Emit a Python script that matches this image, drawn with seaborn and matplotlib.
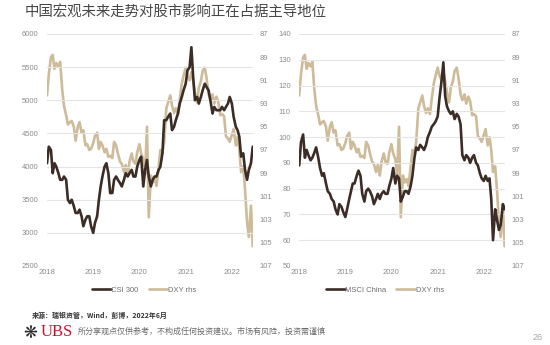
import matplotlib
matplotlib.use("Agg")
import matplotlib.pyplot as plt
import seaborn as sns
import pandas as pd

# ---------------- data (semi-monthly readings, Jan 2018 - Jun 2022) ----------------
csi300 = [
    4050, 4300, 4250, 3900, 4050, 4000, 3900, 3800, 3800, 3850, 3800, 3500,
    3450, 3500, 3400, 3300, 3300, 3350, 3250, 3100, 3200, 3250, 3250, 3100,   # 2018
    3000, 3150, 3250, 3500, 3700, 3850, 4000, 4050, 3900, 3600, 3600, 3800,
    3850, 3800, 3750, 3700, 3800, 3900, 3850, 3900, 3950, 3850, 3850, 4000,   # 2019
    4100, 4150, 3700, 3950, 4100, 3850, 3700, 3800, 3850, 3850, 3950, 4000,
    4200, 4700, 4700, 4750, 4800, 4550, 4600, 4700, 4800, 4950, 5050, 5150,   # 2020
    5250, 5450, 5500, 5800, 5350, 5000, 5050, 4950, 5050, 5150, 5250, 5200,
    5150, 5000, 4800, 4900, 4850, 4850, 4850, 4900, 4850, 4900, 4950, 5050,   # 2021
    4950, 4750, 4600, 4550, 4450, 4150, 4200, 3950, 3800, 3950, 4050, 4300,   # 2022
]
msci_china = [
    89, 98, 101, 92, 95, 93, 91, 92, 94, 96, 92, 88,
    85, 86, 82, 79, 78, 76, 75, 72, 70, 74, 73, 71,                             # 2018
    69, 72, 76, 79, 82, 82, 85, 87, 85, 78, 75, 79,
    80, 79, 77, 74, 76, 78, 76, 78, 79, 78, 78, 81,                             # 2019
    84, 88, 82, 85, 84, 75, 77, 79, 79, 78, 81, 85,
    92, 96, 95, 97, 96, 95, 97, 100, 102, 104, 105, 106,                        # 2020
    108, 115, 122, 129, 116, 112, 110, 109, 110, 107, 109, 108,
    105, 93, 91, 93, 92, 90, 92, 93, 90, 89, 86, 84,                            # 2021
    83, 85, 83, 84, 76, 60, 72, 68, 64, 66, 74, 72,                             # 2022
]
dxy = [
    92.3, 90.5, 89.0, 88.8, 90.0, 89.5, 89.8, 89.4, 91.8, 93.2, 94.0, 94.8,
    94.6, 94.5, 95.0, 96.2, 95.0, 94.6, 95.5, 95.3, 96.6, 96.5, 97.0, 96.9,     # 2018
    96.4, 95.8, 95.5, 96.9, 96.3, 96.6, 97.2, 96.9, 97.6, 97.5, 97.7, 96.3,
    96.6, 97.3, 98.0, 98.2, 98.9, 98.3, 99.2, 98.0, 97.3, 98.0, 98.2, 97.2,     # 2019
    96.5, 97.3, 97.8, 99.1, 95.0, 102.8, 99.2, 99.8, 99.5, 100.1, 98.5, 97.0,
    97.3, 96.3, 93.4, 92.9, 92.3, 93.2, 93.8, 93.4, 93.9, 92.6, 91.3, 90.6,     # 2020
    89.9, 90.6, 91.0, 90.3, 91.0, 92.0, 92.9, 91.6, 91.1, 90.2, 89.9, 90.8,
    92.2, 92.7, 92.2, 93.0, 92.4, 92.8, 94.0, 93.9, 94.1, 95.8, 96.0, 96.3,     # 2021
    95.7, 95.2, 96.6, 95.9, 97.0, 98.9, 98.4, 100.4, 103.2, 104.5, 101.8, 105.3,  # 2022
]
dates = pd.date_range("2018-01-01", periods=len(csi300), freq="SMS")
year_ticks = ["2018", "2019", "2020", "2021", "2022"]
left_ticks_a = [2500, 3000, 3500, 4000, 4500, 5000, 5500, 6000]
left_ticks_b = [50, 60, 70, 80, 90, 100, 110, 120, 130, 140]
right_ticks = [87, 89, 91, 93, 95, 97, 99, 101, 103, 105, 107]

title = "中国宏观未来走势对股市影响正在占据主导地位"
source = "来源：瑞银资管，Wind，彭博，2022年6月"
disclaimer = "所分享观点仅供参考，不构成任何投资建议。市场有风险，投资需谨慎"
page = "26"

df = pd.DataFrame({"date": dates, "CSI 300": csi300,
                   "MSCI China": msci_china, "DXY rhs": dxy})

# ---------------- style ----------------
sns.set_theme(style="white")
plt.rcParams["font.family"] = ["Liberation Sans", "Noto Sans CJK SC", "DejaVu Sans"]
CJK = ["Noto Sans CJK SC", "DejaVu Sans"]

DARK = "#3b2d25"
LIGHT = "#cdbb9a"
TICK = "#8c8c8c"
GRID = "#e4e4e4"

fig = plt.figure(figsize=(5.5, 3.45), dpi=100)
fig.patch.set_facecolor("white")

xmin = pd.Timestamp("2018-01-01")
xmax = pd.Timestamp("2022-06-17")


def panel(rect, col, lticks, legend_x):
    ax = fig.add_axes(rect)
    axr = ax.twinx()
    sns.lineplot(data=df, x="date", y="DXY rhs", ax=axr, color=LIGHT,
                 lw=1.9, label="DXY rhs", legend=False)
    sns.lineplot(data=df, x="date", y=col, ax=ax, color=DARK,
                 lw=1.9, label=col, legend=False)
    ax.set_zorder(axr.get_zorder() + 1)
    ax.patch.set_visible(False)

    ax.set_xlim(xmin, xmax)
    ax.set_ylim(lticks[0], lticks[-1])
    ax.set_yticks(lticks)
    ax.set_yticklabels([str(t) for t in lticks])
    axr.set_ylim(right_ticks[-1], right_ticks[0])
    axr.set_yticks(right_ticks)
    axr.set_yticklabels([str(t) for t in right_ticks])
    ax.set_xticks([pd.Timestamp(f"{y}-01-01") for y in year_ticks])
    ax.set_xticklabels(year_ticks)

    for a in (ax, axr):
        a.set_xlabel("")
        a.set_ylabel("")
        for s in a.spines.values():
            s.set_visible(False)
        a.tick_params(length=0, labelsize=5.5, labelcolor=TICK)
    ax.tick_params(axis="y", pad=6)
    axr.tick_params(axis="y", pad=5)
    ax.tick_params(axis="x", pad=2)
    ax.yaxis.grid(True, color=GRID, lw=0.8)
    ax.xaxis.grid(False)
    axr.grid(False)

    h1, l1 = ax.get_legend_handles_labels()
    h2, l2 = axr.get_legend_handles_labels()
    fig.legend(h1 + h2, l1 + l2, loc="center",
               bbox_to_anchor=(legend_x, 0.159), ncol=2, frameon=False,
               fontsize=5.5, handlelength=2.4, handletextpad=0.1,
               columnspacing=1.3, labelcolor="#6f6f6f")
    return ax, axr


panel([0.0855, 0.229, 0.3745, 0.6725], "CSI 300", left_ticks_a, 0.262)
panel([0.544, 0.229, 0.374, 0.6725], "MSCI China", left_ticks_b, 0.70)

fig.text(25 / 550, 1 - 12 / 345, title, fontsize=10.4, color="#474747",
         va="center", ha="left", family=CJK)
fig.text(32 / 550, 1 - 315 / 345, source, fontsize=5, color="#333333",
         va="center", ha="left", family=CJK, fontweight="bold")
fig.text(30 / 550, 1 - 333 / 345, "❋", fontsize=12, color="#2a2a2a",
         va="center", ha="center", family=["DejaVu Sans"])
fig.text(41 / 550, 1 - 332 / 345, "UBS", fontsize=12, color="#c8102e",
         va="center", ha="left", family=["Liberation Serif"])
fig.text(78 / 550, 1 - 331 / 345, disclaimer, fontsize=5.8, color="#6a6a6a",
         va="center", ha="left", family=CJK)
fig.text(538 / 550, 1 - 338 / 345, page, fontsize=6.5, color="#a8a8a8",
         va="center", ha="center")

fig.savefig("out.png", dpi=100, facecolor="white")
